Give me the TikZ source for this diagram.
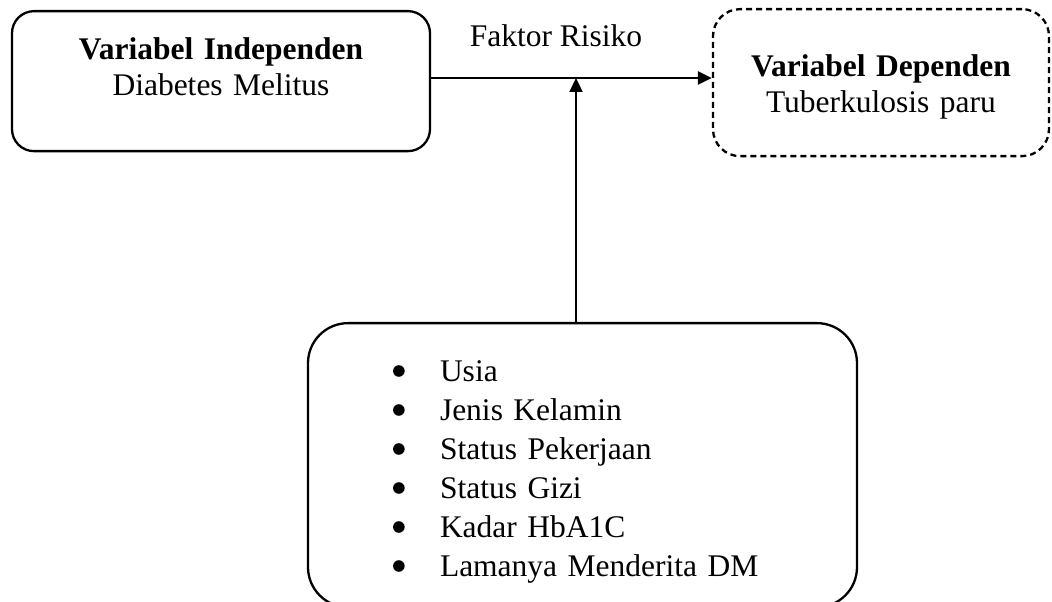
\documentclass[tikz,border=0pt]{standalone}
\usepackage{fontspec}
\setmainfont{Liberation Serif}
\usetikzlibrary{positioning, arrows.meta}
\newcommand{\itm}[1]{\hspace*{132pt}#1}

\begin{document}
\begin{tikzpicture}[
        ->,
        >={Triangle[length=14pt, width=13pt]},
        line width=2.3pt,
        every node/.style={font=\fontsize{31.5}{36}\selectfont},
        varbox/.style={draw, rounded corners=22pt, align=center,
            inner xsep=0pt, inner ysep=0pt, anchor=north},
        x=1pt,
        y=1pt
    ]
    \useasboundingbox (0,0) rectangle (1052,602);

    \node[varbox, text width=418pt, text height=48pt, text depth=92pt] (indep) at (221,592)
        {\textbf{Variabel Independen}\\Diabetes Melitus};
    \node[varbox, dashed, dash pattern=on 6pt off 4pt, rounded corners=27pt,
        text width=336pt, text height=67pt, text depth=80pt] (dep) at (881,594)
        {\textbf{Variabel Dependen}\\Tuberkulosis paru};
    \node[varbox, rounded corners=40pt, align=left, text width=549pt,
        text height=58pt, text depth=226pt,
        font=\fontsize{31.5}{39}\selectfont] (risk) at (582.5,280)
        {\itm{Usia}\\\itm{Jenis Kelamin}\\\itm{Status Pekerjaan}\\
         \itm{Status Gizi}\\\itm{Kadar HbA1C}\\\itm{Lamanya Menderita DM}};
    \node[anchor=base, inner sep=0pt] (faktor) at (556,555) {Faktor Risiko};

    % bullets of the list
    \foreach \i in {0,...,5}
        \fill[-] (risk.north west) ++(92,-49-39*\i) circle (5.8pt);

    \coordinate (join) at (576,524);
    \draw (indep.east |- join) -- (dep.west |- join);
    \draw (risk.north -| join) -- (join);
\end{tikzpicture}
\end{document}
